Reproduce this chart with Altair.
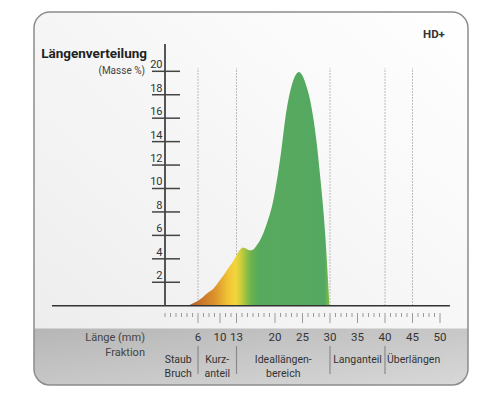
import altair as alt
import pandas as pd

FONT = "Roboto, Liberation Sans, sans-serif"

# ---- data ----
length_mm = [4.2, 5.3, 6.4, 7.9, 8.8, 9.7, 10.6, 11.5, 12.4, 13.0, 13.6, 14.2, 14.8, 15.4,
             15.9, 16.6, 17.3, 18.5, 19.7, 20.9, 22.1, 23.3, 23.9, 24.4, 24.9, 25.6, 26.4,
             27.0, 27.6, 28.2, 28.8, 29.2, 29.5, 29.9]
mass_pct = [0.0, 0.25, 0.55, 1.15, 1.45, 2.0, 2.55, 3.2, 3.8, 4.3, 4.75, 4.97, 4.85, 4.72,
            4.75, 5.1, 5.6, 7.0, 9.0, 12.4, 16.7, 19.2, 19.8, 19.95, 19.7, 18.9, 17.5,
            15.9, 13.8, 11.1, 8.1, 5.6, 3.3, 0.0]

y_ticks = [2, 4, 6, 8, 10, 12, 14, 16, 18, 20]
length_labels = [6, 10, 13, 20, 25, 30, 35, 40, 45, 50]
minor_ticks = [m for m in range(0, 51) if m not in length_labels]
grid_mm = [6, 13, 30, 40, 45]
fraction_names = ["Staub\nBruch", "Kurz-\nanteil", "Ideallängen-\nbereich", "Langanteil", "Überlängen"]
fraction_centers = [2.4, 9.5, 21.5, 35, 45.2]
fraction_bounds = [6, 13, 30, 40]

# ---- scales (mm on x, Masse % on y) ----
xs = alt.Scale(domain=[-28.5455, 59.4545], nice=False, zero=False)
ys = alt.Scale(domain=[-7.3635, 25.401], nice=False, zero=False)


def X(f="x"):
    return alt.X(f"{f}:Q", scale=xs, axis=None)


def Y(f="y"):
    return alt.Y(f"{f}:Q", scale=ys, axis=None)


# layout extents (in data units)
FX0, FX1, FY0, FY1 = -23.82, 55.09, 25.06, -6.77
BAND_TOP = -1.945
LABEL_ROW = -2.756
FRAC_ROW = -4.63

frame_df = pd.DataFrame({"x": [FX0], "x2": [FX1], "y": [FY0], "y2": [FY1]})
band_df = pd.DataFrame({"x": [FX0], "x2": [FX1], "y": [BAND_TOP], "y2": [FY1]})

bg = alt.Chart(frame_df).mark_rect(
    cornerRadius=16,
    fill=alt.Gradient(gradient="linear", x1=1, y1=0, x2=0, y2=1,
                      stops=[alt.GradientStop(color="#ffffff", offset=0),
                             alt.GradientStop(color="#ececec", offset=1)]),
).encode(x=X(), x2=alt.X2("x2:Q"), y=Y(), y2=alt.Y2("y2:Q"))

band = alt.Chart(band_df).mark_rect(
    cornerRadiusBottomLeft=16, cornerRadiusBottomRight=16,
    fill=alt.Gradient(gradient="linear", x1=0, y1=0, x2=1, y2=1,
                      stops=[alt.GradientStop(color="#b6b6b6", offset=0),
                             alt.GradientStop(color="#d8d8d8", offset=1)]),
).encode(x=X(), x2=alt.X2("x2:Q"), y=Y(), y2=alt.Y2("y2:Q"))

grid = alt.Chart(pd.DataFrame({"x": grid_mm, "y": 0.0, "y2": 20.28})).mark_rule(
    color="#a8a8a8", strokeWidth=1, strokeDash=[1.5, 1.5]
).encode(x=X(), y=Y(), y2=alt.Y2("y2:Q"))

curve_df = pd.DataFrame({"x": length_mm, "y": mass_pct, "base": 0.0})
area = alt.Chart(curve_df).mark_area(
    interpolate="monotone",
    color=alt.Gradient(gradient="linear", x1=0, y1=0, x2=1, y2=0, stops=[
        alt.GradientStop(color="#ad5c2c", offset=0),
        alt.GradientStop(color="#c8752a", offset=0.09),
        alt.GradientStop(color="#dc922c", offset=0.187),
        alt.GradientStop(color="#f0c436", offset=0.284),
        alt.GradientStop(color="#f3d63c", offset=0.335),
        alt.GradientStop(color="#cccd3a", offset=0.374),
        alt.GradientStop(color="#93c043", offset=0.412),
        alt.GradientStop(color="#68b150", offset=0.451),
        alt.GradientStop(color="#57aa5c", offset=0.498),
        alt.GradientStop(color="#55a862", offset=0.965),
        alt.GradientStop(color="#80c040", offset=1),
    ]),
).encode(x=X(), y=Y(), y2=alt.Y2("base:Q"))

baseline = alt.Chart(pd.DataFrame({"x": [-20.55], "x2": [51.8], "y": [0.0]})).mark_rule(
    color="#333333", strokeWidth=1.5
).encode(x=X(), x2=alt.X2("x2:Q"), y=Y())

yaxis = alt.Chart(pd.DataFrame({"x": [0.0], "y": [0.0], "y2": [22.33]})).mark_rule(
    color="#444444", strokeWidth=1.8
).encode(x=X(), y=Y(), y2=alt.Y2("y2:Q"))

yticks_df = pd.DataFrame({"y": y_ticks, "x": -2.36, "x2": 2.73, "lx": -0.45,
                          "t": [str(v) for v in y_ticks]})
yticks = alt.Chart(yticks_df).mark_rule(color="#444444", strokeWidth=1.5).encode(
    x=X(), x2=alt.X2("x2:Q"), y=Y())
ylabels = alt.Chart(yticks_df).mark_text(
    align="right", baseline="alphabetic", dy=-3, font=FONT, fontSize=11, color="#333333"
).encode(x=X("lx"), y=Y(), text="t:N")

minor = alt.Chart(pd.DataFrame({"x": minor_ticks, "y": -0.623, "y2": -0.964})).mark_rule(
    color="#9a9a9a", strokeWidth=1).encode(x=X(), y=Y(), y2=alt.Y2("y2:Q"))
major = alt.Chart(pd.DataFrame({"x": length_labels, "y": -0.623, "y2": -1.476})).mark_rule(
    color="#9a9a9a", strokeWidth=1).encode(x=X(), y=Y(), y2=alt.Y2("y2:Q"))

len_lab = alt.Chart(pd.DataFrame({"x": length_labels, "y": LABEL_ROW,
                                  "t": [str(v) for v in length_labels]})).mark_text(
    align="center", baseline="middle", font=FONT, fontSize=11.5, color="#333333"
).encode(x=X(), y=Y(), text="t:N")

frac_lab = alt.Chart(pd.DataFrame({"x": fraction_centers, "y": FRAC_ROW,
                                   "t": fraction_names})).mark_text(
    align="center", baseline="middle", lineBreak="\n", lineHeight=14,
    font=FONT, fontSize=10.5, color="#333333"
).encode(x=X(), y=Y(), text="t:N")

seps = alt.Chart(pd.DataFrame({"x": fraction_bounds, "y": -3.44, "y2": -5.83})).mark_rule(
    color="#8a8a8a", strokeWidth=1.2).encode(x=X(), y=Y(), y2=alt.Y2("y2:Q"))

row_lab = alt.Chart(pd.DataFrame({"x": [-3.64, -3.64], "y": [LABEL_ROW, -4.04],
                                  "t": ["Länge (mm)", "Fraktion"]})).mark_text(
    align="right", baseline="middle", font=FONT, fontSize=11, color="#444444"
).encode(x=X(), y=Y(), text="t:N")

title = alt.Chart(pd.DataFrame({"x": [-3.27], "y": [21.48], "t": ["Längenverteilung"]})).mark_text(
    align="right", baseline="middle", font=FONT, fontSize=13.5, fontWeight="bold", color="#222222"
).encode(x=X(), y=Y(), text="t:N")

subtitle = alt.Chart(pd.DataFrame({"x": [-3.64], "y": [20.03], "t": ["(Masse %)"]})).mark_text(
    align="right", baseline="middle", font=FONT, fontSize=10, color="#444444"
).encode(x=X(), y=Y(), text="t:N")

hd = alt.Chart(pd.DataFrame({"x": [48.9], "y": [23.1], "t": ["HD+"]})).mark_text(
    align="center", baseline="middle", font=FONT, fontSize=11.5, fontWeight="bold", color="#333333"
).encode(x=X(), y=Y(), text="t:N")

outline = alt.Chart(frame_df).mark_rect(
    cornerRadius=16, filled=False, stroke="#8c8c8c", strokeWidth=1.5
).encode(x=X(), x2=alt.X2("x2:Q"), y=Y(), y2=alt.Y2("y2:Q"))

chart = alt.layer(
    bg, band, grid, area, baseline, yaxis, yticks, ylabels, minor, major,
    len_lab, frac_lab, seps, row_lab, title, subtitle, hd, outline
).properties(
    width=484, height=384, padding=0, autosize="none", background="white"
).configure_view(stroke=None)

chart.save("out.html", embed_options={"renderer": "svg", "actions": False})
